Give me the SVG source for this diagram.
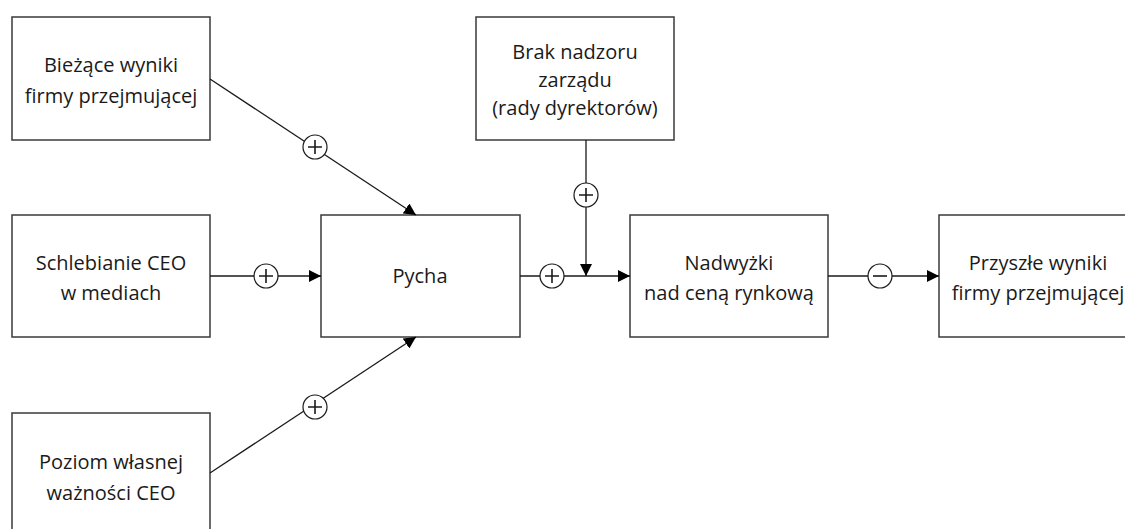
<svg xmlns="http://www.w3.org/2000/svg" width="1125" height="529" viewBox="0 0 1125 529">
<style>
.box{fill:#fff;stroke:#3a3a3a;stroke-width:1.5}
.t{font-family:"Open Sans","Liberation Sans",sans-serif;font-size:20px;fill:#1a1a1a;text-anchor:middle}
.ln{stroke:#1a1a1a;stroke-width:1.3;fill:none}
.sg{fill:#fff;stroke:#1a1a1a;stroke-width:1.2}
.sym{stroke:#1a1a1a;stroke-width:1.6}
</style>
<defs>
<marker id="ah" viewBox="0 0 12 12" refX="12" refY="6" markerWidth="12" markerHeight="12" markerUnits="userSpaceOnUse" orient="auto">
<path d="M0,0 L12,6 L0,12 Z" fill="#000"/>
</marker>
</defs>
<rect width="1125" height="529" fill="#fff"/>
<g id="n1"><rect class="box" x="12" y="17" width="198" height="123"/>
<text class="t" x="111" y="72">Bieżące wyniki</text><text class="t" x="111" y="103">firmy przejmującej</text></g>
<g id="n2"><rect class="box" x="12" y="215" width="198" height="122"/>
<text class="t" x="111" y="270">Schlebianie CEO</text><text class="t" x="111" y="300">w mediach</text></g>
<g id="n3"><rect class="box" x="12" y="413" width="198" height="123"/>
<text class="t" x="111" y="469">Poziom własnej</text><text class="t" x="111" y="500">ważności CEO</text></g>
<g id="n4"><rect class="box" x="321" y="215" width="199" height="122"/>
<text class="t" x="420" y="283">Pycha</text></g>
<g id="n5"><rect class="box" x="476" y="17" width="198" height="123"/>
<text class="t" x="575" y="59">Brak nadzoru</text><text class="t" x="575" y="87">zarządu</text><text class="t" x="575" y="115">(rady dyrektorów)</text></g>
<g id="n6"><rect class="box" x="630" y="215" width="198" height="122"/>
<text class="t" x="729" y="270">Nadwyżki</text><text class="t" x="729" y="300">nad ceną rynkową</text></g>
<g id="n7"><rect class="box" x="939" y="215" width="198" height="122"/>
<text class="t" x="1038" y="270">Przyszłe wyniki</text><text class="t" x="1038" y="300">firmy przejmującej</text></g>
<g id="connectors">
<line class="ln" x1="210" y1="79" x2="416" y2="215" marker-end="url(#ah)"/>
<line class="ln" x1="210" y1="276" x2="321" y2="276" marker-end="url(#ah)"/>
<line class="ln" x1="210" y1="473" x2="416" y2="337" marker-end="url(#ah)"/>
<line class="ln" x1="520" y1="276" x2="630" y2="276" marker-end="url(#ah)"/>
<line class="ln" x1="586" y1="140" x2="586" y2="276" marker-end="url(#ah)"/>
<line class="ln" x1="828" y1="276" x2="939" y2="276" marker-end="url(#ah)"/>
<g id="s1"><circle class="sg" cx="315" cy="147" r="12"/><path class="sym" d="M308,147H322M315,140V154"/></g>
<g id="s2"><circle class="sg" cx="266" cy="276" r="12"/><path class="sym" d="M259,276H273M266,269V283"/></g>
<g id="s3"><circle class="sg" cx="315" cy="407" r="12"/><path class="sym" d="M308,407H322M315,400V414"/></g>
<g id="s4"><circle class="sg" cx="552" cy="276" r="12"/><path class="sym" d="M545,276H559M552,269V283"/></g>
<g id="s5"><circle class="sg" cx="586" cy="195" r="12"/><path class="sym" d="M579,195H593M586,188V202"/></g>
<g id="s6"><circle class="sg" cx="880" cy="276" r="12"/><path class="sym" d="M873,276H887"/></g>
</g>
</svg>
